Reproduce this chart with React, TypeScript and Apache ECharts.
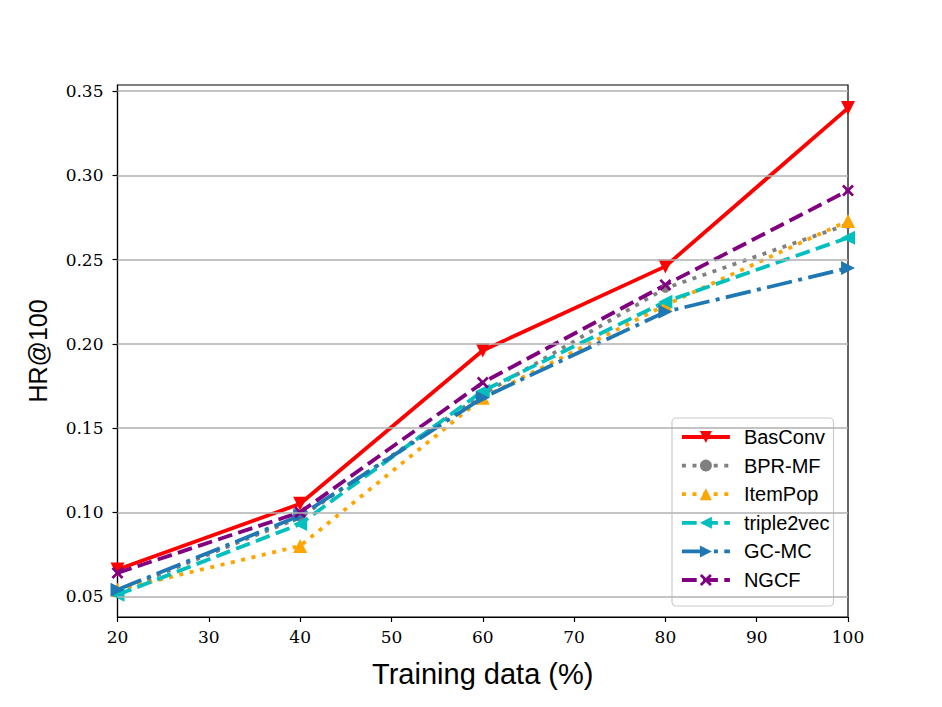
import React, { useEffect, useRef } from "react";
import * as echarts from "echarts";

const xValues = [20, 40, 60, 80, 100];
const basConv = [0.066, 0.105, 0.196, 0.246, 0.34];
const bprMf = [0.053, 0.097, 0.17, 0.233, 0.271];
const itemPop = [0.054, 0.08, 0.168, 0.223, 0.273];
const triple2vec = [0.051, 0.093, 0.172, 0.225, 0.263];
const gcMc = [0.054, 0.098, 0.168, 0.219, 0.245];
const ngcf = [0.064, 0.1, 0.177, 0.235, 0.291];
const yTicks = [0.05, 0.1, 0.15, 0.2, 0.25, 0.3, 0.35];

const xPath = "path://M0,1.6L1.6,0L5,3.4L8.4,0L10,1.6L6.6,5L10,8.4L8.4,10L5,6.6L1.6,10L0,8.4L3.4,5Z";

export default function App() {
  const ref = useRef<HTMLDivElement>(null);
  useEffect(() => {
    if (!ref.current) return;
    const chart = echarts.init(ref.current, undefined, { renderer: "svg" });
    const pts = (arr: number[]) => arr.map((v, i) => [xValues[i], v]);
    const LW = 3.8;
    const mk = (
      name: string,
      data: number[],
      color: string,
      type: any,
      symbol: string,
      symbolSize: number,
      symbolRotate = 0
    ) => ({
      name,
      type: "line",
      data: pts(data),
      symbol,
      symbolSize,
      symbolRotate,
      showSymbol: true,
      lineStyle: { color, width: LW, type },
      itemStyle: { color, borderWidth: 0 },
      emphasis: { disabled: true },
    });
    chart.setOption({
      animation: false,
      backgroundColor: "#ffffff",
      grid: {
        left: 117.5,
        top: 85,
        width: 730.5,
        height: 532,
        show: true,
        borderColor: "#000",
        borderWidth: 1.2,
        backgroundColor: "transparent",
      },
      legend: {
        orient: "vertical",
        left: 672,
        top: 418,
        padding: [9, 4, 16, 8],
        itemWidth: 48,
        itemHeight: 15,
        itemGap: 8.6,
        backgroundColor: "rgba(255,255,255,0.85)",
        borderColor: "#cccccc",
        borderWidth: 1.2,
        borderRadius: 4,
        lineStyle: { width: LW },
        textStyle: {
          fontFamily: "Liberation Sans",
          fontSize: 20,
          color: "#000",
          padding: [0, 0, 0, 9],
        },
        data: ["BasConv", "BPR-MF", "ItemPop", "triple2vec", "GC-MC", "NGCF"],
      },
      xAxis: {
        type: "value",
        min: 20,
        max: 100,
        interval: 10,
        name: "Training data (%)",
        nameLocation: "middle",
        nameGap: 42,
        nameTextStyle: { fontFamily: "Liberation Sans", fontSize: 29, color: "#000" },
        axisLine: { show: true, onZero: false, lineStyle: { color: "#000", width: 1.2 } },
        axisTick: { show: true, length: 5, lineStyle: { color: "#000", width: 1.2 } },
        axisLabel: { fontFamily: "DejaVu Serif", fontSize: 17, color: "#000", margin: 11 },
        splitLine: { show: false },
      },
      yAxis: {
        type: "value",
        min: 0.0378,
        max: 0.3537,
        name: "HR@100",
        nameLocation: "middle",
        nameGap: 67,
        nameRotate: 90,
        nameTextStyle: { fontFamily: "Liberation Sans", fontSize: 25, color: "#000" },
        axisLine: { show: true, onZero: false, lineStyle: { color: "#000", width: 1.2 } },
        axisTick: {
          show: true,
          length: 5,
          lineStyle: { color: "#000", width: 1.2 },
          customValues: yTicks,
        },
        axisLabel: {
          fontFamily: "DejaVu Serif",
          fontSize: 17,
          color: "#000",
          margin: 14,
          customValues: yTicks,
          formatter: (v: number) => v.toFixed(2),
        },
        splitLine: { show: false },
      },
      series: [
        {
          name: "grid",
          type: "line",
          data: [],
          silent: true,
          z: 0,
          markLine: {
            silent: true,
            symbol: "none",
            label: { show: false },
            lineStyle: { color: "#b0b0b0", width: 1.5, type: "solid" },
            emphasis: { disabled: true },
            data: yTicks.map((v) => ({ yAxis: v })),
          },
        },
        mk("BasConv", basConv, "#ff0000", "solid", "triangle", 14, 180),
        mk("BPR-MF", bprMf, "#808080", [4, 6.6], "circle", 9),
        mk("ItemPop", itemPop, "#ffa500", [4, 6.6], "triangle", 14),
        mk("triple2vec", triple2vec, "#00bfbf", [14.8, 6.4], "triangle", 14, 90),
        mk("GC-MC", gcMc, "#1f77b4", [25.6, 6.4, 4, 6.4], "triangle", 14, -90),
        mk("NGCF", ngcf, "#800080", [14.8, 6.4], xPath, 12),
      ],
    });
    return () => chart.dispose();
  }, []);
  return (
    <div
      ref={ref}
      style={{ position: "fixed", left: 0, top: 0, width: 942, height: 707, background: "#fff" }}
    />
  );
}
